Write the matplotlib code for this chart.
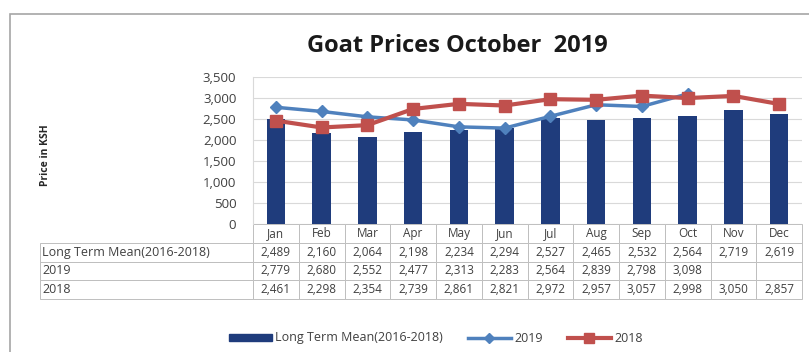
import numpy as np
import matplotlib

matplotlib.use("Agg")
import matplotlib.pyplot as plt
from matplotlib.lines import Line2D
from matplotlib.patches import Patch, Rectangle
from matplotlib.table import Table
from matplotlib.ticker import FuncFormatter

plt.rcParams["font.family"] = ["Open Sans", "DejaVu Sans"]

months = ["Jan", "Feb", "Mar", "Apr", "May", "Jun",
          "Jul", "Aug", "Sep", "Oct", "Nov", "Dec"]
long_term_mean = [2489, 2160, 2064, 2198, 2234, 2294,
                  2527, 2465, 2532, 2564, 2719, 2619]
prices_2019 = [2779, 2680, 2552, 2477, 2313, 2283,
               2564, 2839, 2798, 3098, np.nan, np.nan]
prices_2018 = [2461, 2298, 2354, 2739, 2861, 2821,
               2972, 2957, 3057, 2998, 3050, 2857]
series_names = ["Long Term Mean(2016-2018)", "2019", "2018"]

NAVY = "#1F3C7C"
BLUE = "#4F81BD"
RED = "#C0504D"
GRID = "#D9D9D9"
TXT = "#404040"

W, H = 809, 352
fig = plt.figure(figsize=(W / 100, H / 100), dpi=100)

# chart frame
fig.add_artist(Rectangle((10 / W, -0.01), 1.0, 1 - 14 / H + 0.01,
                         transform=fig.transFigure, fill=False,
                         ec="#A6A6A6", lw=1.2))

ax = fig.add_axes([253 / W, 1 - 224 / H, 549 / W, 147 / H])
x = np.arange(len(months))
ax.bar(x, long_term_mean, width=0.4, color=NAVY, zorder=2)
ax.plot(x, prices_2019, color=BLUE, lw=2.5, marker="D", ms=6, zorder=3)
ax.plot(x, prices_2018, color=RED, lw=3, marker="s", ms=9, zorder=4)

ax.set_xlim(-0.5, 11.5)
ax.set_ylim(0, 3500)
ax.set_yticks(np.arange(0, 3501, 500))
ax.yaxis.set_major_formatter(FuncFormatter(lambda v, _: f"{v:,.0f}"))
ax.tick_params(axis="y", length=0, labelsize=9.5, colors=TXT, pad=12)
ax.set_xticks([])
ax.grid(axis="y", color=GRID, lw=0.8, zorder=0)
for s in ("top", "right", "bottom"):
    ax.spines[s].set_visible(False)
ax.spines["left"].set_color(GRID)

fig.text(45 / W, 1 - 155 / H, "Price in KSH", rotation=90, ha="center",
         va="center", fontsize=7.5, fontweight="bold", color="#262626")
fig.text(457 / W, 1 - 46 / H, "Goat Prices October  2019", ha="center",
         va="center", fontsize=17, fontweight="bold", color="#1a1a1a")


# data table under the plot
def fmt(v):
    return "" if np.isnan(v) else f"{int(v):,}"


label_w = 213 / 549
col_w = 1 / 12
row_h = 1 / 4
# bbox covers the month columns only; the label column hangs off to the left
tbl = Table(ax, bbox=[0, -75 / 147, 1, 75 / 147])
for c, m in enumerate(months):
    tbl.add_cell(0, c, col_w, row_h, text=m, loc="center")
for r, (name, vals) in enumerate(zip(series_names,
                                     (long_term_mean, prices_2019, prices_2018)),
                                 start=1):
    tbl.add_cell(r, -1, label_w, row_h, text=name, loc="left")
    for c, v in enumerate(vals):
        tbl.add_cell(r, c, col_w, row_h, text=fmt(v), loc="center")
tbl.auto_set_font_size(False)
for (r, c), cell in tbl.get_celld().items():
    cell.set_edgecolor("#BFBFBF")
    cell.set_linewidth(0.7)
    cell.get_text().set_fontsize(9 if c == -1 else 8.5)
    cell.get_text().set_color(TXT)
    cell.PAD = 0.01
ax.add_table(tbl)

handles = [
    Patch(color=NAVY, label=series_names[0]),
    Line2D([], [], color=BLUE, lw=2.5, marker="D", ms=5, label=series_names[1]),
    Line2D([], [], color=RED, lw=3, marker="s", ms=7, label=series_names[2]),
]
fig.legend(handles=handles, loc="center", bbox_to_anchor=(436 / W, 1 - 338 / H),
           ncol=3, frameon=False, fontsize=9, handlelength=3.4,
           handletextpad=0.3, columnspacing=2.0,
           handleheight=0.5, labelcolor=TXT)

fig.savefig("out.png", dpi=100)
